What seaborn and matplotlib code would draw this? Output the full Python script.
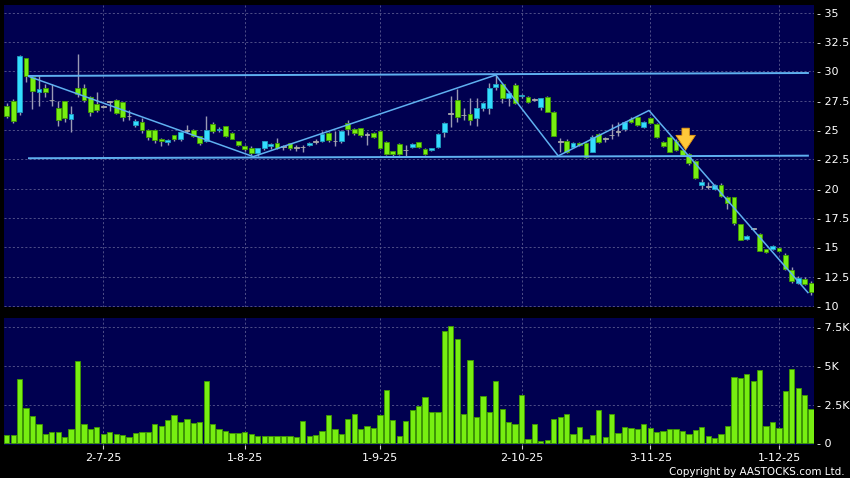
import numpy as np
import pandas as pd
import seaborn as sns
import matplotlib.pyplot as plt

# daily sessions 10-6-25 .. 8-12-25, one entry per trading day
opens = [27.0, 27.5, 26.5, 31.1, 29.5, 28.25, 28.55, 27.55, 26.85, 27.45,
         25.95, 28.55, 28.6, 27.8, 27.25, 27.0, 27.4, 27.55, 27.35, 26.2,
         25.4, 25.7, 25.0, 25.0, 24.2, 24.0, 24.55, 24.2, 24.95, 25.0,
         24.45, 24.1, 25.5, 25.0, 25.3, 24.7, 24.05, 23.65, 23.5, 23.0,
         23.5, 23.6, 23.85, 23.58, 23.85, 23.52, 23.55, 23.7, 24.0, 24.09,
         24.7, 24.06, 24.06, 25.57, 25.08, 25.14, 24.63, 24.72, 24.94, 24.0,
         23.2, 23.78, 23.3, 23.55, 23.95, 23.38, 23.27, 23.58, 24.86, 26.42,
         27.55, 26.28, 26.33, 25.99, 26.9, 26.84, 28.63, 28.91, 27.7, 28.8,
         27.85, 27.84, 27.6, 26.99, 27.78, 26.56, 24.0, 24.09, 23.52, 23.92,
         23.92, 23.16, 24.66, 24.29, 24.57, 24.86, 25.06, 25.9, 26.08, 25.28,
         25.99, 25.51, 24.01, 24.43, 24.09, 23.3, 22.96, 22.39, 20.32, 20.18,
         19.98, 20.32, 19.27, 19.27, 16.97, 15.69, 16.6, 16.15, 14.84, 14.84,
         14.98, 14.36, 13.09, 11.98, 12.29, 11.95]
closes = [26.2, 25.8, 31.3, 29.6, 28.3, 28.5, 28.2, 27.55, 25.85, 26.0,
          26.35, 28.05, 27.55, 26.55, 26.7, 27.0, 27.4, 26.45, 26.1, 26.2,
          25.75, 25.0, 24.4, 24.15, 24.05, 24.12, 24.2, 24.8, 24.95, 24.5,
          23.9, 25.0, 24.9, 25.1, 24.45, 24.25, 23.7, 23.35, 23.0, 23.45,
          24.05, 23.8, 23.45, 23.58, 23.45, 23.52, 23.55, 23.92, 24.0, 24.63,
          24.15, 24.06, 24.94, 25.08, 24.72, 24.57, 24.63, 24.43, 23.44, 22.93,
          22.93, 22.93, 23.3, 23.78, 23.58, 22.99, 23.44, 24.66, 25.57, 26.42,
          26.13, 26.28, 25.85, 26.84, 27.26, 28.6, 28.88, 27.7, 28.12, 27.33,
          27.95, 27.41, 27.6, 27.69, 26.56, 24.52, 24.0, 23.16, 23.92, 23.72,
          22.73, 24.38, 24.0, 24.29, 24.57, 24.86, 25.71, 25.71, 25.42, 25.71,
          25.57, 24.38, 23.64, 23.16, 23.3, 22.87, 22.16, 20.89, 20.54, 20.18,
          20.32, 19.38, 18.81, 17.06, 15.64, 15.98, 16.6, 14.7, 14.64, 15.13,
          14.7, 13.14, 12.15, 12.38, 11.89, 11.24]
highs = [27.3, 27.65, 31.4, 31.15, 29.6, 29.7, 28.95, 28.95, 27.45, 27.5,
         27.0, 31.45, 28.95, 27.9, 28.2, 27.1, 27.5, 27.6, 27.4, 26.7,
         25.95, 26.0, 25.1, 25.05, 24.3, 24.2, 24.6, 24.85, 25.4, 25.05,
         24.5, 26.2, 25.7, 25.25, 25.35, 24.8, 24.1, 23.7, 23.6, 23.5,
         24.1, 23.9, 24.3, 23.7, 23.9, 23.75, 23.7, 24.0, 24.2, 24.9,
         24.8, 24.9, 25.0, 25.85, 25.2, 25.2, 24.85, 24.8, 25.0, 24.05,
         23.25, 23.85, 23.75, 23.9, 24.0, 23.45, 23.5, 24.7, 25.65, 27.9,
         28.5, 26.85, 27.7, 27.75, 27.4, 28.97, 29.7, 29.0, 28.3, 29.0,
         28.1, 27.9, 27.7, 27.75, 27.85, 26.6, 24.3, 24.2, 24.0, 24.0,
         24.0, 24.6, 24.75, 24.4, 25.5, 25.7, 25.8, 26.1, 26.15, 25.8,
         26.1, 25.6, 24.1, 24.5, 24.2, 23.35, 23.0, 22.45, 20.85, 20.6,
         20.4, 20.45, 19.35, 19.3, 17.0, 16.05, 16.65, 16.2, 14.9, 15.2,
         15.05, 14.5, 13.35, 12.55, 12.45, 12.1]
lows = [26.0, 25.55, 26.3, 29.1, 26.8, 27.05, 27.8, 27.0, 25.3, 25.65,
        24.8, 27.8, 27.4, 26.2, 26.55, 26.9, 26.6, 26.4, 25.75, 25.85,
        25.25, 24.7, 24.15, 23.9, 23.65, 23.7, 24.1, 24.1, 24.75, 24.4,
        23.75, 24.0, 24.75, 24.8, 24.4, 24.2, 23.6, 23.2, 22.9, 22.75,
        23.3, 23.4, 23.35, 23.3, 23.3, 23.2, 23.1, 23.6, 23.8, 24.0,
        24.0, 23.6, 23.9, 24.6, 24.6, 24.4, 23.75, 24.3, 23.35, 22.85,
        22.8, 22.85, 22.8, 23.45, 23.5, 22.9, 23.2, 23.5, 24.4, 25.28,
        25.7, 25.85, 25.4, 25.3, 26.6, 26.4, 28.4, 27.3, 27.0, 27.2,
        27.7, 27.3, 27.45, 26.7, 26.5, 24.45, 23.16, 23.0, 23.45, 23.6,
        22.6, 23.1, 23.9, 24.0, 24.2, 24.5, 24.9, 25.6, 25.35, 25.2,
        25.5, 24.3, 23.55, 23.1, 23.2, 22.8, 22.05, 20.8, 20.0, 20.0,
        19.9, 19.25, 18.25, 16.9, 15.6, 15.6, 16.5, 14.65, 14.5, 14.75,
        14.65, 13.1, 12.0, 11.9, 11.8, 10.95]
volume_k = [0.56, 0.56, 4.12, 2.26, 1.75, 1.28, 0.64, 0.75, 0.73, 0.43,
            0.92, 5.32, 1.22, 0.92, 1.05, 0.64, 0.75, 0.64, 0.56, 0.43,
            0.66, 0.71, 0.73, 1.22, 1.09, 1.52, 1.86, 1.39, 1.56, 1.30,
            1.35, 4.0, 1.22, 0.96, 0.81, 0.66, 0.66, 0.75, 0.58, 0.49,
            0.51, 0.49, 0.51, 0.45, 0.45, 0.41, 1.47, 0.49, 0.53, 0.83,
            1.84, 0.92, 0.6, 1.54, 1.9, 0.92, 1.15, 0.98, 1.82, 3.42,
            1.52, 0.45, 1.45, 2.12, 2.39, 2.99, 2.03, 2.05, 7.22, 7.56,
            6.71, 1.92, 5.38, 1.73, 3.03, 2.05, 4.0, 2.2, 1.41, 1.26,
            3.1, 0.28, 1.28, 0.13, 0.24, 1.54, 1.69, 1.92, 0.64, 1.07,
            0.3, 0.56, 2.16, 0.43, 1.92, 0.68, 1.07, 1.0, 0.9, 1.22,
            1.0, 0.75, 0.79, 0.96, 0.92, 0.81, 0.58, 0.85, 1.03, 0.47,
            0.34, 0.58, 1.11, 4.27, 4.23, 4.49, 4.04, 4.7, 1.1, 1.4,
            1.0, 3.4, 4.8, 3.55, 3.1, 2.2]

date_tick_idx = [15, 37, 58, 80, 100, 120]
date_tick_labels = ["2-7-25", "1-8-25", "1-9-25", "2-10-25", "3-11-25", "1-12-25"]
price_ticks = [10, 12.5, 15, 17.5, 20, 22.5, 25, 27.5, 30, 32.5, 35]
vol_ticks = [0, 2.5, 5, 7.5]
vol_tick_labels = ["0", "2.5K", "5K", "7.5K"]

# drawn trend lines (session index, price)
zigzag_idx = [3.45, 38.3, 76.0, 85.7, 99.8, 124.5]
zigzag_val = [29.55, 22.73, 29.68, 22.79, 26.66, 11.15]
resist_idx = [3.45, 124.5]
resist_val = [29.6, 29.85]
support_idx = [3.45, 124.5]
support_val = [22.59, 22.81]
arrow_idx = 105.5
arrow_from, arrow_to = 25.15, 23.3

NAVY = "#000050"
LIME = "#77ee11"
CYAN = "#33ddff"
GRID = "#5a5a90"

n = len(closes)
idx = np.arange(n)
df = pd.DataFrame({"idx": idx, "open": opens, "close": closes,
                   "high": highs, "low": lows, "vol": volume_k})

fig = plt.figure(figsize=(8.5, 4.78), dpi=100, facecolor="black")
ax = fig.add_axes([0.005, 0.3577, 0.9526, 0.6318], facecolor=NAVY)
axv = fig.add_axes([0.005, 0.069, 0.9526, 0.2657], facecolor=NAVY)

# candles
body_col = np.where(df.close > df.open, CYAN, np.where(df.close < df.open, LIME, "#aaaaaa"))
edge_col = np.where(df.close > df.open, "#1f9fc0", np.where(df.close < df.open, "#3f9a00", "#aaaaaa"))
height = (df.close - df.open).to_numpy()
bottom = df.open.to_numpy().copy()
flat = height == 0
height[flat] = 0.06
bottom[flat] -= 0.03
ax.vlines(df.idx, df.low, df.high, color="#9a9ab4", lw=1, zorder=2)
ax.bar(df.idx, height, bottom=bottom, width=0.74, color=body_col,
       edgecolor=edge_col, linewidth=0.6, zorder=3)

ax.plot(zigzag_idx, zigzag_val, color="#5fb0f0", lw=1.1, zorder=4)
ax.plot(resist_idx, resist_val, color="#5fb0f0", lw=1.4, zorder=4)
ax.plot(support_idx, support_val, color="#5fb0f0", lw=1.4, zorder=4)
ax.annotate("", xy=(arrow_idx, arrow_to), xytext=(arrow_idx, arrow_from),
            arrowprops=dict(arrowstyle="simple,head_width=1.0,head_length=0.75,tail_width=0.38",
                            fc="#ffc83a", ec="#e89a10", lw=0.6, mutation_scale=14,
                            shrinkA=0, shrinkB=0), zorder=6)

# volume
sns.barplot(data=df, x="idx", y="vol", native_scale=True, color=LIME,
            edgecolor="#3f9a00", linewidth=0.6, width=0.82, saturation=1,
            errorbar=None, ax=axv, zorder=3)

xlim = (-0.39, 125.44)
for a in (ax, axv):
    a.set_xlim(*xlim)
    for s in a.spines.values():
        s.set_visible(False)
    a.set_xticks(date_tick_idx)
    a.grid(True, color=GRID, ls=(0, (2.5, 2.5)), lw=0.6)
    a.set_axisbelow(True)
    a.set_xlabel("")
    a.set_ylabel("")
    a.yaxis.tick_right()
    a.tick_params(axis="y", length=0, pad=2, labelcolor="white", labelsize=8)

ax.set_ylim(9.92, 35.64)
ax.set_yticks(price_ticks)
ax.set_yticklabels(["- " + f"{t:g}" for t in price_ticks])
ax.tick_params(axis="x", length=0, labelbottom=False)

axv.set_ylim(-0.1, 8.06)
axv.set_yticks(vol_ticks)
axv.set_yticklabels(["- " + t for t in vol_tick_labels])
axv.set_xticklabels(date_tick_labels)
axv.tick_params(axis="x", direction="out", length=3, width=0.8, color="#cccccc",
                labelcolor="white", labelsize=8, pad=3)

fig.text(0.994, 0.003, "Copyright by AASTOCKS.com Ltd.", color="white",
         fontsize=7.5, ha="right", va="bottom")

fig.savefig("out.png", dpi=100, facecolor="black")
